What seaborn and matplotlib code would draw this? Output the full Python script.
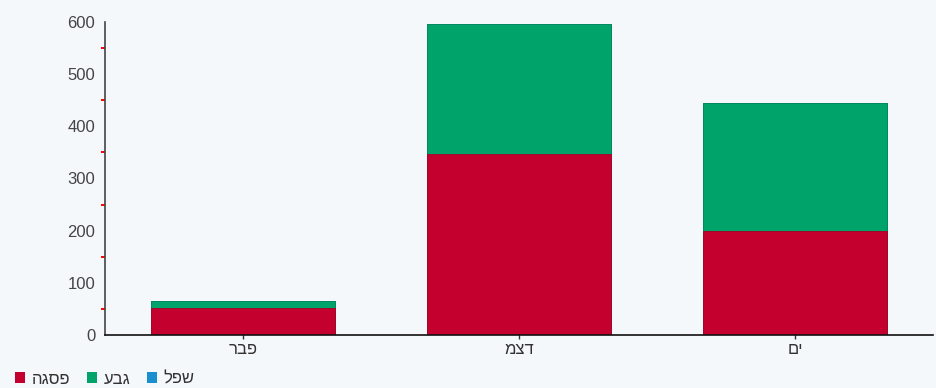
import numpy as np
import pandas as pd
import seaborn as sns
import matplotlib.pyplot as plt
from matplotlib.patches import Patch
from matplotlib.ticker import MultipleLocator

# data
months = ['פבר', 'דצמ', 'ים']
peak = [52, 347, 200]      # פסגה
shoulder = [13, 249, 244]  # גבע
offpeak = [0, 0, 0]        # שפל
series_names = ['פסגה', 'גבע', 'שפל']
colors = ['#c4002f', '#00a36a', '#1a8fd0']


def heb(s):
    # matplotlib has no bidi support, so flip to visual order
    return s[::-1]


sns.set_style('white')
plt.rcParams['font.family'] = ['Liberation Sans', 'DejaVu Sans']

fig = plt.figure(figsize=(9.37, 3.88), dpi=100)
fig.patch.set_facecolor('#f5f8fb')
ax = fig.add_axes([105 / 937, 53 / 388, 828 / 937, 313 / 388])
ax.set_facecolor('none')

df = pd.DataFrame({'month': [heb(m) for m in months],
                   'peak': peak, 'shoulder': shoulder, 'offpeak': offpeak})
df['top_shoulder'] = df['peak'] + df['shoulder']
df['top_offpeak'] = df['top_shoulder'] + df['offpeak']

sns.barplot(data=df, x='month', y='top_offpeak', color=colors[2], width=0.67,
            saturation=1, edgecolor='#14709f', linewidth=0.6, ax=ax)
sns.barplot(data=df, x='month', y='top_shoulder', color=colors[1], width=0.67,
            saturation=1, edgecolor='#00885a', linewidth=0.6, ax=ax)
sns.barplot(data=df, x='month', y='peak', color=colors[0], width=0.67,
            saturation=1, edgecolor='#a80028', linewidth=0.6, ax=ax)

ax.set_ylim(0, 600)
ax.set_xlim(-0.5, 2.5)
ax.set_xlabel('')
ax.set_ylabel('')
for s in ['top', 'right']:
    ax.spines[s].set_visible(False)
ax.spines['left'].set_color('#444444')
ax.spines['left'].set_linewidth(1.2)
ax.spines['bottom'].set_color('#111111')
ax.spines['bottom'].set_linewidth(1.2)

ax.yaxis.set_major_locator(MultipleLocator(100))
ax.yaxis.set_minor_locator(MultipleLocator(50))
ax.tick_params(axis='y', which='major', direction='inout', length=8, width=1.2,
               color='#333333', labelsize=12, labelcolor='#444444', pad=3)
ax.tick_params(axis='y', which='minor', direction='out', length=3, width=1.4,
               color='#ff0000', left=True)
ax.tick_params(axis='x', direction='inout', length=6, width=1, color='#333333',
               labelsize=12, labelcolor='#333333', pad=2, bottom=True)

handles = [Patch(facecolor=c, edgecolor='none') for c in colors]
fig.legend(handles, [heb(n) for n in series_names], loc='lower left',
           bbox_to_anchor=(0.0, -0.035), ncol=3, frameon=False, fontsize=12,
           handlelength=0.6, handleheight=0.6, handletextpad=0.4,
           columnspacing=1.0, markerfirst=True, labelcolor='#333333')

fig.savefig('out.png', dpi=100, facecolor=fig.get_facecolor())
